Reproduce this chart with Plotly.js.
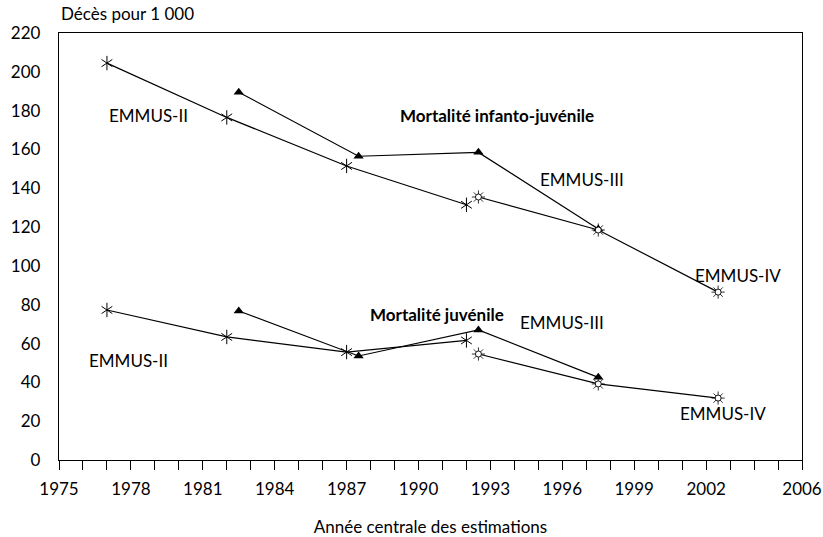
<!DOCTYPE html>
<html>
<head>
<meta charset="utf-8">
<script src="https://cdn.plot.ly/plotly-3.0.1.min.js"></script>
<style>html,body{margin:0;padding:0;background:#fff;}#chart{width:823px;height:537px;}</style>
</head>
<body>
<div id="chart"></div>
<script>
// Mortalité infanto-juvénile
const infYearsII = [1977, 1982, 1987, 1992];
const infValsII = [204.5, 176.5, 151.5, 131.5];
const infYearsIII = [1982.5, 1987.5, 1992.5, 1997.5];
const infValsIII = [189.5, 156.5, 158.5, 119.0];
const infYearsIV = [1992.5, 1997.5, 2002.5];
const infValsIV = [135.5, 118.5, 86.5];
// Mortalité juvénile
const juvYearsII = [1977, 1982, 1987, 1992];
const juvValsII = [77.3, 63.4, 55.6, 61.6];
const juvYearsIII = [1982.5, 1987.5, 1992.5, 1997.5];
const juvValsIII = [76.8, 53.6, 67.0, 42.6];
const juvYearsIV = [1992.5, 1997.5, 2002.5];
const juvValsIV = [54.6, 39.2, 31.9];

const tickYears = [1975, 1978, 1981, 1984, 1987, 1990, 1993, 1996, 1999, 2002, 2006];
const tickLabels = tickYears.map(String);

const FONT = 'Lato, "Open Sans", sans-serif';
const FS = 17;
const line = {color: '#000', width: 1.2};

function asterisk(x, y) {
  return [
    {x, y, type: 'scatter', mode: 'lines+markers', line,
     marker: {symbol: 'y-up-open', size: 9, color: '#000', line: {color: '#000', width: 1}},
     hoverinfo: 'skip', showlegend: false},
    {x, y, type: 'scatter', mode: 'markers',
     marker: {symbol: 'y-down-open', size: 9, color: '#000', line: {color: '#000', width: 1}},
     hoverinfo: 'skip', showlegend: false}
  ];
}
function triangle(x, y) {
  return [{x, y, type: 'scatter', mode: 'lines+markers', line,
    marker: {symbol: 'triangle-up', size: 9, color: '#000'},
    hoverinfo: 'skip', showlegend: false}];
}
function sun(x, y) {
  return [
    {x, y, type: 'scatter', mode: 'lines+markers', line,
     marker: {symbol: 'asterisk-open', size: 11, color: '#000', line: {color: '#000', width: 0.8}},
     hoverinfo: 'skip', showlegend: false},
    {x, y, type: 'scatter', mode: 'markers',
     marker: {symbol: 'circle', size: 6, color: '#fff', line: {color: '#000', width: 0.9}},
     hoverinfo: 'skip', showlegend: false}
  ];
}

const data = [].concat(
  asterisk(infYearsII, infValsII),
  triangle(infYearsIII, infValsIII),
  sun(infYearsIV, infValsIV),
  asterisk(juvYearsII, juvValsII),
  triangle(juvYearsIII, juvValsIII),
  sun(juvYearsIV, juvValsIV)
);

function note(text, x, y, bold) {
  return {text: bold ? '<b>' + text + '</b>' : text, x, y, xref: 'x', yref: 'y',
    showarrow: false, xanchor: 'center', yanchor: 'middle',
    font: {family: FONT, size: FS, color: '#000'}};
}

const layout = {
  width: 823, height: 537,
  margin: {l: 59, r: 21, t: 33, b: 77},
  paper_bgcolor: '#fff', plot_bgcolor: '#fff',
  font: {family: FONT, size: FS, color: '#000'},
  xaxis: {
    range: [1975, 2006], tickvals: tickYears, ticktext: tickLabels,
    ticks: 'outside', ticklen: 9, tickwidth: 1, tickcolor: '#000',
    ticklabelstandoff: 4,
    minor: {dtick: 1, tick0: 1975, ticks: 'outside', ticklen: 9, tickwidth: 1, tickcolor: '#000', showgrid: false},
    showline: true, linecolor: '#000', linewidth: 1.2, mirror: true,
    showgrid: false, zeroline: false,
    tickfont: {family: FONT, size: FS},
    title: {text: 'Année centrale des estimations', font: {family: FONT, size: FS}, standoff: 24}
  },
  yaxis: {
    range: [0, 220], dtick: 20, ticks: '', ticklabelstandoff: 14,
    showline: true, linecolor: '#000', linewidth: 1.2, mirror: true,
    showgrid: false, zeroline: false,
    tickfont: {family: FONT, size: FS}
  },
  annotations: [
    {text: 'Décès pour 1 000', x: 0, y: 1, xref: 'paper', yref: 'paper', xanchor: 'left', yanchor: 'bottom',
     yshift: 7, showarrow: false, font: {family: FONT, size: FS}},
    note('EMMUS-II', 1978.75, 177.7),
    note('Mortalité infanto-juvénile', 1993.27, 177.7, true),
    note('EMMUS-III', 1996.82, 144.3),
    note('EMMUS-IV', 2003.33, 95.3),
    note('Mortalité juvénile', 1990.77, 75.2, true),
    note('EMMUS-III', 1995.98, 70.6),
    note('EMMUS-II', 1977.88, 51.5),
    note('EMMUS-IV', 2002.7, 24.2)
  ]
};

Plotly.newPlot('chart', data, layout, {displayModeBar: false, staticPlot: true});
</script>
</body>
</html>
